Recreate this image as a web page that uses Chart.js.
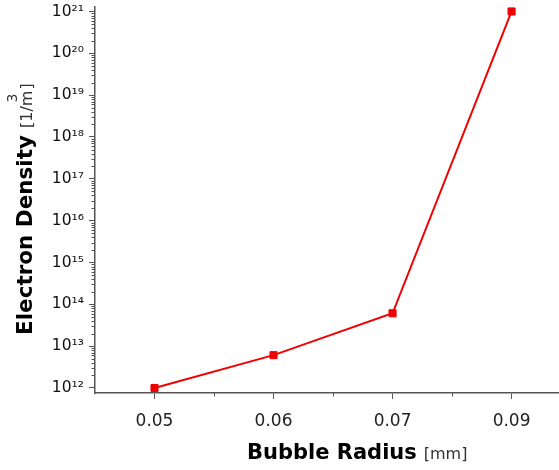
<!DOCTYPE html>
<html>
<head>
<meta charset="utf-8">
<script src="https://cdn.jsdelivr.net/npm/chart.js@4/dist/chart.umd.min.js"></script>
<style>
  html, body { margin: 0; padding: 0; background: #fff; }
  #wrap { width: 559px; height: 470px; }
</style>
</head>
<body>
<div id="wrap"><canvas id="density" width="559" height="470"></canvas></div>
<script>
// bubble radius in mm (shown as categories, evenly spaced)
const radii = ['0.05', '0.06', '0.07', '0.09'];
// electron density in 1/m^3
const density = [1.0e12, 6.1e12, 6.1e13, 1.0e21];
// decade exponents that get a label on the y axis
const yExponents = [12, 13, 14, 15, 16, 17, 18, 19, 20, 21];

const supDigits = {'0':'⁰','1':'¹','2':'²','3':'³','4':'⁴','5':'⁵','6':'⁶','7':'⁷','8':'⁸','9':'⁹','-':'⁻'};
function pow10Label(e) {
  return '10' + String(e).split('').map(c => supDigits[c]).join('');
}

const axisColor = '#555';
const red = '#f00000';

// short minor ticks, drawn after the axes
const minorTicks = {
  id: 'minorTicks',
  afterDraw(chart) {
    const ctx = chart.ctx;
    const x = chart.scales.x, y = chart.scales.y;
    ctx.save();
    ctx.strokeStyle = axisColor;
    ctx.lineWidth = 1;
    ctx.beginPath();
    for (let i = 0; i < yExponents.length - 1; i++) {
      for (let k = 2; k <= 9; k++) {
        const py = Math.round(y.getPixelForValue(k * Math.pow(10, yExponents[i]))) + 0.5;
        ctx.moveTo(x.left - 3.5, py);
        ctx.lineTo(x.left, py);
      }
    }
    for (let i = 0; i < radii.length - 1; i++) {
      const px = Math.round(x.getPixelForValue(i + 0.5)) + 0.5;
      ctx.moveTo(px, y.bottom);
      ctx.lineTo(px, y.bottom + 3.5);
    }
    ctx.stroke();
    ctx.restore();
  }
};

// axis titles: bold name plus a lighter unit
const axisTitles = {
  id: 'axisTitles',
  afterDraw(chart) {
    const ctx = chart.ctx;
    ctx.save();
    ctx.textAlign = 'left';
    ctx.textBaseline = 'alphabetic';

    // x title
    ctx.font = 'bold 21px "DejaVu Sans"';
    ctx.fillStyle = '#000';
    const xName = 'Bubble Radius';
    const xw = ctx.measureText(xName).width;
    ctx.fillText(xName, 247, 459);
    ctx.font = '16px "DejaVu Sans"';
    ctx.fillStyle = '#333';
    ctx.fillText('[mm]', 247 + xw + 7, 459);

    // y title, rotated
    ctx.translate(32, 335);
    ctx.rotate(-Math.PI / 2);
    ctx.font = 'bold 21.5px "DejaVu Sans"';
    ctx.fillStyle = '#000';
    const yName = 'Electron Density';
    const yw = ctx.measureText(yName).width;
    ctx.fillText(yName, 0, 0);
    ctx.font = '16px "DejaVu Sans"';
    ctx.fillStyle = '#333';
    const u0 = yw + 7;
    const part = '[1/m';
    const pw = ctx.measureText(part).width;
    ctx.fillText(part, u0, 0);
    ctx.fillText(']', u0 + pw + 1, 0);
    ctx.font = '14px "DejaVu Sans"';
    ctx.fillText('3', u0 + pw - 12, -15);
    ctx.restore();
  }
};

const ctx = document.getElementById('density').getContext('2d');
const chart = new Chart(ctx, {
  type: 'line',
  data: {
    datasets: [{
      data: density.map((v, i) => ({ x: i, y: v })),
      borderColor: red,
      backgroundColor: red,
      borderWidth: 2,
      pointStyle: 'rect',
      pointRadius: 5,
      pointBorderWidth: 1,
      pointBackgroundColor: red,
      pointBorderColor: red,
      tension: 0,
      clip: false
    }]
  },
  options: {
    responsive: false,
    animation: false,
    devicePixelRatio: 1,
    layout: { autoPadding: false, padding: { top: 7, right: 1, left: 0, bottom: 0 } },
    plugins: { legend: { display: false }, tooltip: { enabled: false } },
    scales: {
      x: {
        type: 'linear',
        min: -0.5,
        max: 3.39,
        afterBuildTicks(scale) {
          scale.ticks = radii.map((r, i) => ({ value: i }));
        },
        afterFit(scale) {
          scale.height = 77;
          scale.paddingLeft = 0;
          scale.paddingRight = 0;
        },
        ticks: {
          autoSkip: false,
          maxRotation: 0,
          padding: 12,
          color: '#222',
          font: { family: '"DejaVu Sans"', size: 17 },
          callback: (v) => radii[v]
        },
        grid: { drawOnChartArea: false, tickLength: 6, tickColor: axisColor, tickWidth: 1 },
        border: { color: axisColor, width: 1.5 }
      },
      y: {
        type: 'logarithmic',
        min: 7.59e11,
        max: 1.28e21,
        afterBuildTicks(scale) {
          scale.ticks = yExponents.map(e => ({ value: Math.pow(10, e) }));
        },
        afterFit(scale) {
          scale.width = 95;
          scale.paddingTop = 0;
          scale.paddingBottom = 0;
        },
        ticks: {
          autoSkip: false,
          padding: 5,
          color: '#111',
          font: { family: '"DejaVu Sans"', size: 15.5 },
          callback: (v) => pow10Label(Math.round(Math.log10(v)))
        },
        grid: { drawOnChartArea: false, tickLength: 6, tickColor: axisColor, tickWidth: 1 },
        border: { color: axisColor, width: 1.5 }
      }
    }
  },
  plugins: [minorTicks, axisTitles]
});
</script>
</body>
</html>
